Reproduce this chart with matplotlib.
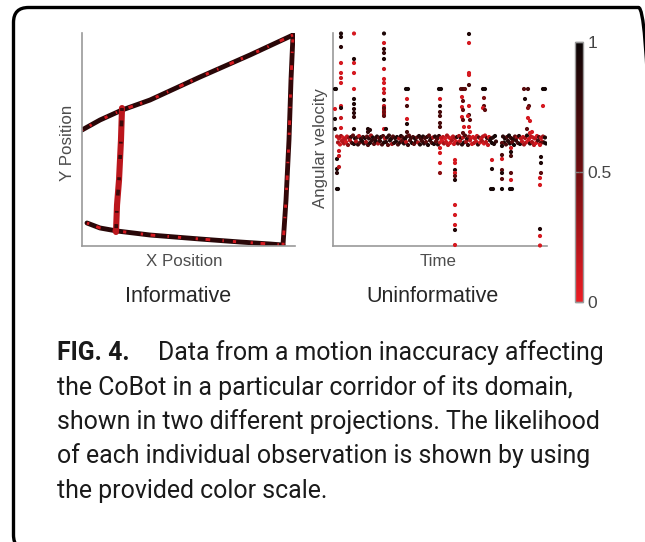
import matplotlib
matplotlib.use("Agg")
import matplotlib.pyplot as plt
import numpy as np
from matplotlib.collections import LineCollection
from matplotlib.colors import LinearSegmentedColormap, Normalize
from matplotlib.patches import FancyBboxPatch
import matplotlib.cm as cm

# ---------------- data ----------------
# Left panel: robot trajectory corridors (X, Y position) and likelihood
bottom_x = [1.17, 4.23, 8.22, 15.96, 27.70, 37.09, 44.13, 47.18]
bottom_y = [5.40, 4.23, 3.52, 2.58, 1.64, 0.94, 0.47, 0.23]
right_x = [47.18, 47.89, 48.59, 49.06, 49.53]
right_y = [0.23, 10.80, 24.88, 38.97, 49.53]
top_x = [49.53, 39.44, 27.70, 15.96, 9.39, 4.23, 0.0]
top_y = [49.53, 44.84, 39.67, 34.27, 31.92, 29.58, 27.23]
mid_x = [9.39, 9.15, 8.69, 8.22, 7.98]
mid_y = [32.39, 24.88, 15.49, 9.62, 3.29]
corridor_likelihood = [0.85, 0.8, 0.85, 0.2]
speckle_likelihood = [0.1, 0.1, 0.1, 0.75]

# Right panel: angular velocity over time, dense band near zero
band1_t = [4, 6, 8, 10, 12, 14, 16, 18, 20, 22, 24, 26, 28, 30, 32, 34, 36, 38, 40, 42,
           44, 46, 48, 50, 52, 54, 56, 58, 60, 62, 64, 66, 68, 70, 72, 74, 76, 78, 80, 82,
           84, 86, 88, 90, 92, 94, 96, 98, 100, 102, 104, 106, 108, 110, 112, 114, 116, 118, 120, 122,
           124, 126, 128, 130, 132, 134, 136, 138, 140, 142, 144, 146, 148, 150, 152, 154, 156, 158, 160, 162,
           170, 172, 174, 176, 178, 180, 182, 184, 186, 188, 190, 192, 194, 196, 198, 200, 202, 204, 206, 208, 210, 212]
band1_v = [0.03, 0.01, 0.035, 0.02, 0.005, 0.03, 0.015, 0.025, 0.04, 0.01, 0.02, 0.035, 0.005, 0.025, 0.015, 0.03, 0.01, 0.04, 0.02, 0.005,
           0.03, 0.015, 0.025, 0.035, 0.01, 0.02, 0.04, 0.005, 0.03, 0.015, 0.025, 0.01, 0.035, 0.02, 0.005, 0.03, 0.04, 0.015, 0.025, 0.01,
           0.02, 0.035, 0.005, 0.03, 0.015, 0.025, 0.04, 0.01, 0.02, 0.03, 0.005, 0.035, 0.015, 0.025, 0.01, 0.04, 0.02, 0.005, 0.03, 0.015,
           0.025, 0.035, 0.01, 0.02, 0.04, 0.005, 0.03, 0.015, 0.025, 0.01, 0.035, 0.02, 0.005, 0.03, 0.04, 0.015, 0.025, 0.01, 0.02, 0.035,
           0.03, 0.01, 0.025, 0.04, 0.015, 0.005, 0.03, 0.02, 0.035, 0.01, 0.025, 0.015, 0.04, 0.005, 0.03, 0.02, 0.01, 0.035, 0.025, 0.015, 0.03, 0.02]
band1_L = [0.2, 0.15, 0.3, 0.1, 0.2, 0.15, 0.35,
           0.8, 0.6, 0.9, 0.7, 0.2, 0.85, 0.7, 0.9, 0.6, 0.8, 0.3, 0.9, 0.75, 0.85, 0.6, 0.9, 0.7, 0.2, 0.85, 0.8,
           0.9, 0.65, 0.8, 0.9, 0.3, 0.85, 0.7, 0.9, 0.8, 0.6,
           0.8, 0.7, 0.9, 0.6, 0.85, 0.75, 0.9, 0.7, 0.8, 0.6, 0.9, 0.3, 0.85, 0.7, 0.8,
           0.15, 0.2, 0.1, 0.25, 0.15, 0.1, 0.2, 0.3,
           0.8, 0.3, 0.9, 0.2, 0.7, 0.85, 0.4,
           0.15, 0.1, 0.2, 0.15, 0.6, 0.1, 0.2, 0.15, 0.7, 0.1,
           0.9, 0.85, 0.95,
           0.85, 0.9, 0.7, 0.95, 0.8, 0.9, 0.6, 0.3, 0.85,
           0.2, 0.15, 0.25, 0.9, 0.1, 0.2,
           0.15, 0.2, 0.1, 0.6, 0.15, 0.3, 0.9]
band2_t = [5, 7, 9, 11, 13, 15, 17, 19, 21, 23, 25, 27, 29, 31, 33, 35, 37, 39, 41, 43,
           45, 47, 49, 51, 53, 55, 57, 59, 61, 63, 65, 67, 69, 71, 73, 75, 77, 79, 81, 83,
           85, 87, 89, 91, 93, 95, 97, 99, 101, 103, 105, 107, 109, 111, 113, 115, 117, 119, 121, 123,
           125, 127, 129, 131, 133, 135, 137, 139, 141, 143, 145, 147, 149, 151, 153, 155, 157, 159, 161, 163,
           171, 173, 175, 177, 179, 181, 183, 185, 187, 189, 191, 193, 195, 197, 199, 201, 203, 205, 207, 209, 211, 213]
band2_v = [-0.03, -0.05, -0.015, -0.04, -0.025, -0.055, -0.01, -0.035, -0.045, -0.02, -0.05, -0.03, -0.015, -0.04, -0.025, -0.055, -0.035, -0.01, -0.045, -0.02,
           -0.04, -0.015, -0.05, -0.03, -0.025, -0.055, -0.01, -0.045, -0.035, -0.02, -0.05, -0.03, -0.015, -0.04, -0.025, -0.055, -0.01, -0.035, -0.045, -0.02,
           -0.03, -0.05, -0.015, -0.04, -0.025, -0.055, -0.01, -0.035, -0.045, -0.02, -0.05, -0.03, -0.015, -0.04, -0.025, -0.055, -0.035, -0.01, -0.045, -0.02,
           -0.04, -0.015, -0.05, -0.03, -0.025, -0.055, -0.01, -0.045, -0.035, -0.02, -0.05, -0.03, -0.015, -0.04, -0.025, -0.055, -0.01, -0.035, -0.045, -0.02,
           -0.03, -0.05, -0.015, -0.04, -0.025, -0.055, -0.01, -0.035, -0.045, -0.02, -0.05, -0.03, -0.015, -0.04, -0.025, -0.055, -0.035, -0.01, -0.045, -0.02, -0.03, -0.04]
band2_L = [0.3, 0.1, 0.2, 0.25, 0.1, 0.4, 0.2,
           0.7, 0.9, 0.2, 0.8, 0.6, 0.9, 0.85, 0.3, 0.7, 0.9, 0.8, 0.6, 0.9, 0.25, 0.8, 0.7, 0.9, 0.85, 0.6, 0.9,
           0.3, 0.8, 0.9, 0.7, 0.85, 0.6, 0.9, 0.2, 0.8, 0.7,
           0.9, 0.6, 0.8, 0.25, 0.9, 0.7, 0.85, 0.6, 0.9, 0.8, 0.7, 0.9, 0.6, 0.85, 0.2,
           0.1, 0.3, 0.15, 0.2, 0.1, 0.25, 0.15, 0.1,
           0.6, 0.2, 0.85, 0.9, 0.3, 0.8, 0.2,
           0.1, 0.2, 0.15, 0.8, 0.1, 0.25, 0.1, 0.2, 0.15, 0.9,
           0.95, 0.9, 0.8,
           0.9, 0.7, 0.85, 0.9, 0.6, 0.95, 0.8, 0.7, 0.9,
           0.15, 0.3, 0.2, 0.1, 0.85, 0.25,
           0.2, 0.1, 0.7, 0.15, 0.2, 0.85, 0.95]

# Right panel: outlying observations (time, angular velocity, likelihood)
out_t = [2, 3, 2, 2, 2,
         4, 4, 4, 4, 5,
         6, 6, 6,
         8, 8, 8, 8, 8, 8, 8, 8, 8, 8, 8,
         21, 21, 21, 21, 21, 21, 21, 21, 21, 21, 21,
         35, 35, 37,
         51, 51, 51, 51, 51, 51, 51, 51, 51, 51, 51, 51, 51, 51, 51, 53, 51, 51, 51,
         73, 75, 74, 74, 74, 74, 74,
         106, 108, 107, 107, 107, 107, 107, 107, 107, 107, 107, 107,
         122, 122, 122, 122, 122, 122, 122, 122, 122, 122, 122,
         128, 130, 132, 129, 130, 129, 130, 129, 130, 131, 130,
         136, 136, 136, 136, 136, 136, 136, 135, 137, 136, 137,
         150, 152, 151, 151, 150, 152,
         159, 159, 158, 160,
         169, 169, 169, 169, 169, 169, 169, 169,
         178, 178, 178, 178, 178, 177, 179,
         191, 195, 192, 196, 195, 195, 197, 194, 197,
         199,
         210, 212, 210, 208, 207, 208, 208, 208, 207, 207, 207, 207, 207]
out_v = [0.505, 0.505, 0.305, 0.205, 0.105,
         -0.195, -0.295, -0.335, -0.495, -0.495,
         -0.115, -0.165, -0.275,
         1.06, 1.025, 0.925, 0.765, 0.665, 0.615, 0.565, 0.335, 0.315, 0.215, 0.115,
         1.06, 0.805, 0.765, 0.665, 0.505, 0.405, 0.355, 0.305, 0.265, 0.225, 0.105,
         0.105, 0.075, 0.095,
         1.06, 0.965, 0.905, 0.865, 0.805, 0.705, 0.605, 0.565, 0.505, 0.465, 0.395, 0.335, 0.295, 0.255, 0.105, 0.105, 0.315, 0.275, 0.235,
         0.505, 0.505, 0.405, 0.335, 0.205, 0.155, 0.075,
         0.505, 0.505, 0.405, 0.335, 0.275, 0.235, 0.165, 0.125, -0.085, -0.135, -0.235, -0.335,
         -0.205, -0.235, -0.305, -0.335, -0.365, -0.405, -0.655, -0.755, -0.855, -0.905, -1.055,
         0.505, 0.505, 0.505, 0.425, 0.385, 0.325, 0.295, 0.225, 0.195, 0.125, 0.065,
         1.055, 0.965, 0.665, 0.645, 0.545, 0.335, 0.245, 0.235, 0.195, 0.125, 0.075,
         0.505, 0.505, 0.415, 0.335, 0.315, 0.295,
         -0.205, -0.295, -0.495, -0.495,
         -0.035, -0.065, -0.155, -0.195, -0.305, -0.335, -0.395, -0.495,
         -0.085, -0.125, -0.165, -0.335, -0.405, -0.495, -0.495,
         0.505, 0.505, 0.405, 0.335, 0.315, 0.215, 0.185, 0.105, 0.065,
         0.075,
         0.505, 0.505, 0.335, -0.035, -0.055, -0.175, -0.235, -0.335, -0.385, -0.455, -0.895, -0.965, -1.06]
out_L = [0.95, 0.95, 0.1, 0.9, 0.9,
         0.9, 0.9, 0.85, 0.95, 0.95,
         0.15, 0.15, 0.2,
         0.9, 0.9, 0.85, 0.1, 0.1, 0.15, 0.1, 0.1, 0.9, 0.15, 0.1,
         0.1, 0.9, 0.1, 0.1, 0.1, 0.9, 0.9, 0.85, 0.85, 0.8, 0.9,
         0.9, 0.8, 0.85,
         0.9, 0.1, 0.8, 0.8, 0.9, 0.15, 0.1, 0.1, 0.1, 0.15, 0.9, 0.15, 0.2, 0.2, 0.1, 0.9, 0.6, 0.5, 0.6,
         0.95, 0.95, 0.1, 0.7, 0.1, 0.9, 0.7,
         0.95, 0.95, 0.1, 0.9, 0.7, 0.7, 0.7, 0.7, 0.1, 0.1, 0.1, 0.4,
         0.1, 0.1, 0.9, 0.1, 0.6, 0.9, 0.1, 0.1, 0.1, 0.9, 0.1,
         0.6, 0.7, 0.6, 0.1, 0.6, 0.1, 0.6, 0.1, 0.6, 0.1, 0.6,
         0.9, 0.1, 0.1, 0.1, 0.7, 0.1, 0.7, 0.1, 0.6, 0.1, 0.1,
         0.95, 0.95, 0.45, 0.6, 0.1, 0.6,
         0.1, 0.9, 0.95, 0.95,
         0.6, 0.9, 0.7, 0.1, 0.6, 0.9, 0.6, 0.95,
         0.1, 0.9, 0.7, 0.6, 0.1, 0.95, 0.95,
         0.6, 0.7, 0.9, 0.6, 0.4, 0.1, 0.1, 0.6, 0.1,
         0.1,
         0.95, 0.95, 0.1, 0.6, 0.1, 0.9, 0.9, 0.6, 0.1, 0.1, 0.9, 0.1, 0.1]

cbar_ticks = [0, 0.5, 1]
cbar_ticklabels = ["0", "0.5", "1"]

caption_bold = "FIG. 4."
caption_lines = [
    "Data from a motion inaccuracy affecting",
    "the CoBot in a particular corridor of its domain,",
    "shown in two different projections. The likelihood",
    "of each individual observation is shown by using",
    "the provided color scale.",
]

# ---------------- figure ----------------
W, H = 645, 542
fig = plt.figure(figsize=(W / 100, H / 100), dpi=100)
fig.patch.set_facecolor("white")

def fx(px):
    return px / W

def fy(py):
    return 1 - py / H

cmap = LinearSegmentedColormap.from_list(
    "likelihood", [(0.0, (0.93, 0.11, 0.14)), (0.5, (0.44, 0.05, 0.06)), (1.0, (0.04, 0.02, 0.02))])
norm = Normalize(0, 1)

# outer rounded frame (pixel coordinates, origin bottom-left)
frame = FancyBboxPatch((13.5, -8), 640, 542.5, boxstyle="round,pad=0,rounding_size=15",
                       fill=False, edgecolor="black", linewidth=2.4)
frame.set_transform(matplotlib.transforms.IdentityTransform())
fig.patches.append(frame)

spine_col = "#9a9a9a"
label_col = "#4d4d4d"

def style_axes(ax):
    for s in ["top", "right"]:
        ax.spines[s].set_visible(False)
    for s in ["left", "bottom"]:
        ax.spines[s].set_color(spine_col)
        ax.spines[s].set_linewidth(1.2)
    ax.set_xticks([])
    ax.set_yticks([])
    ax.set_facecolor("none")

# Left panel
axL = fig.add_axes([fx(82), fy(246), fx(295) - fx(82), fy(33) - fy(246)])
style_axes(axL)
axL.set_xlim(0, 50)
axL.set_ylim(0, 50)

corridors = [(bottom_x, bottom_y), (right_x, right_y), (top_x, top_y), (mid_x, mid_y)]
widths = [3.5, 3.5, 3.5, 4.4]
for (xs, ys), lik, sp, lw in zip(corridors, corridor_likelihood, speckle_likelihood, widths):
    pts = np.column_stack([xs, ys])
    seg = [pts]
    lc = LineCollection(seg, cmap=cmap, norm=norm, linewidths=lw, capstyle="round", joinstyle="round")
    lc.set_array(np.array([lik]))
    axL.add_collection(lc)
    lc2 = LineCollection(seg, cmap=cmap, norm=norm, linewidths=lw * 0.6,
                         linestyles=[(0, (0.8, 2.6, 1.6, 4.2, 0.5, 3.1, 1.1, 5.0))], capstyle="butt")
    lc2.set_array(np.array([sp]))
    axL.add_collection(lc2)

# Right panel
axR = fig.add_axes([fx(333), fy(246), fx(547) - fx(333), fy(33) - fy(246)])
style_axes(axR)
axR.set_xlim(0, 214)
axR.set_ylim(-1.065, 1.065)
ms = 9
axR.scatter(band1_t, band1_v, c=band1_L, cmap=cmap, norm=norm, s=ms, linewidths=0, zorder=2)
axR.scatter(band2_t, band2_v, c=band2_L, cmap=cmap, norm=norm, s=ms, linewidths=0, zorder=2)
axR.scatter(out_t, out_v, c=out_L, cmap=cmap, norm=norm, s=ms, linewidths=0, zorder=3, clip_on=False)

# Colorbar
cax = fig.add_axes([fx(575), fy(302), fx(583) - fx(575), fy(42) - fy(302)])
cb = fig.colorbar(cm.ScalarMappable(norm=norm, cmap=cmap), cax=cax, ticks=cbar_ticks)
cb.set_ticklabels(cbar_ticklabels)
cb.outline.set_edgecolor(spine_col)
cb.outline.set_linewidth(1.0)
cax.tick_params(direction="in", length=3, width=1, color="#808080", labelsize=12.5,
                labelcolor="#444444", pad=3, left=True, right=True)
for lab in cax.get_yticklabels():
    lab.set_fontfamily("Liberation Sans")

# Axis labels and titles
lab_font = dict(family="Liberation Sans", color=label_col, fontsize=12.2)
fig.text(fx(184), fy(262), "X Position", ha="center", va="center", **lab_font)
fig.text(fx(67), fy(143), "Y Position", ha="center", va="center", rotation=90, **lab_font)
fig.text(fx(438), fy(262), "Time", ha="center", va="center", **lab_font)
fig.text(fx(320), fy(148), "Angular velocity", ha="center", va="center", rotation=90, **lab_font)
title_font = dict(family="Liberation Sans", color="#262626", fontsize=15.5)
fig.text(fx(178), fy(297), "Informative", ha="center", va="center", **title_font)
fig.text(fx(433), fy(297), "Uninformative", ha="center", va="center", **title_font)

# Caption
cap_font = dict(family="Roboto", color="#1a1a1a", fontsize=17.9)
base = 360
step = 34.5
fig.text(fx(57), fy(base), caption_bold, ha="left", va="baseline", fontweight="bold", **cap_font)
fig.text(fx(158), fy(base), caption_lines[0], ha="left", va="baseline", **cap_font)
for i, line in enumerate(caption_lines[1:], start=1):
    fig.text(fx(57), fy(base + i * step), line, ha="left", va="baseline", **cap_font)

fig.savefig("out.png", dpi=100, facecolor="white")
